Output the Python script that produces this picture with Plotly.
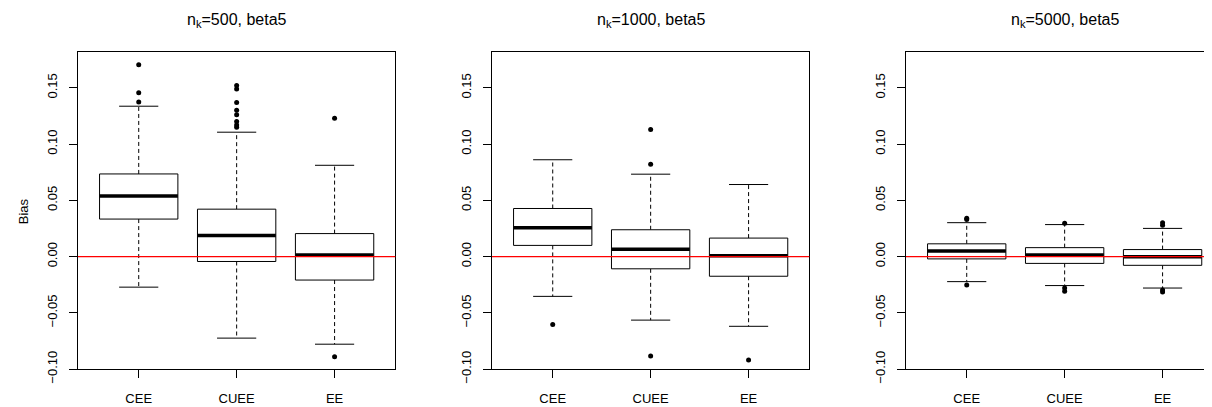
import plotly.graph_objects as go

# ---------------- data ----------------
categories = ["CEE", "CUEE", "EE"]
panel_titles = ["n<sub>k</sub>=500, beta5", "n<sub>k</sub>=1000, beta5", "n<sub>k</sub>=5000, beta5"]
y_tickvals = [-0.10, -0.05, 0.00, 0.05, 0.10, 0.15]
y_ticktext = ["\u22120.10", "\u22120.05", "0.00", "0.05", "0.10", "0.15"]

# panel 1: n_k = 500
q1_500 = [0.0334, -0.0043, -0.0208]
med_500 = [0.0539, 0.0188, 0.0014]
q3_500 = [0.0735, 0.0422, 0.0205]
lo_500 = [-0.0271, -0.0724, -0.0778]
hi_500 = [0.1337, 0.1106, 0.0812]
out_500 = [[0.1705, 0.1457, 0.1374],
           [0.152, 0.149, 0.137, 0.130, 0.126, 0.120, 0.117, 0.115],
           [0.1229, -0.0889]]

# panel 2: n_k = 1000
q1_1000 = [0.0100, -0.0108, -0.0174]
med_1000 = [0.0257, 0.0066, 0.0009]
q3_1000 = [0.0428, 0.0239, 0.0165]
lo_1000 = [-0.0353, -0.0564, -0.0619]
hi_1000 = [0.0861, 0.0733, 0.0641]
out_1000 = [[-0.0604],
            [0.1129, 0.0821, -0.0884],
            [-0.0918]]

# panel 3: n_k = 5000
q1_5000 = [-0.0020, -0.0060, -0.0077]
med_5000 = [0.0051, 0.0014, 0.0000]
q3_5000 = [0.0114, 0.0080, 0.0063]
lo_5000 = [-0.0222, -0.0257, -0.0279]
hi_5000 = [0.0302, 0.0285, 0.0251]
out_5000 = [[0.0342, 0.0331, -0.0251],
            [0.0296, -0.0279, -0.0308],
            [0.0302, 0.0279, -0.0296, -0.0314]]

panels = [
    (q1_500, med_500, q3_500, lo_500, hi_500, out_500),
    (q1_1000, med_1000, q3_1000, lo_1000, hi_1000, out_1000),
    (q1_5000, med_5000, q3_5000, lo_5000, hi_5000, out_5000),
]

# ---------------- layout geometry ----------------
W, H = 1212, 407
FONT = "Liberation Sans, Arial, Helvetica, sans-serif"
PANEL_W = 317.3
unit = PANEL_W / 3.24
x_domains = [(70 / W, 387.3 / W), (484 / W, 801.3 / W), (898.0 / W, 1.0)]
x_ranges = [[0.38, 3.62], [0.38, 3.62], [0.38, 0.38 + (W - 898.0) / unit]]
y_domain = [32 / H, 361 / H]
y_range = [-0.10, 0.1816]
BOX_HALF = 0.4
CAP_HALF = 0.2

fig = go.Figure()

for p, (q1, med, q3, lo, hi, outs) in enumerate(panels):
    xa = "x" if p == 0 else f"x{p+1}"
    ya = "y" if p == 0 else f"y{p+1}"
    wx, wy, cx, cy, bx, by, mx, my, ox, oy = [], [], [], [], [], [], [], [], [], []
    for j in range(len(categories)):
        c = j + 1
        wx += [c, c, None, c, c, None]
        wy += [q3[j], hi[j], None, q1[j], lo[j], None]
        cx += [c - CAP_HALF, c + CAP_HALF, None, c - CAP_HALF, c + CAP_HALF, None]
        cy += [hi[j], hi[j], None, lo[j], lo[j], None]
        bx += [c - BOX_HALF, c + BOX_HALF, c + BOX_HALF, c - BOX_HALF, c - BOX_HALF, None]
        by += [q1[j], q1[j], q3[j], q3[j], q1[j], None]
        mx += [c - BOX_HALF, c + BOX_HALF, None]
        my += [med[j], med[j], None]
        ox += [c] * len(outs[j])
        oy += outs[j]
    common = dict(xaxis=xa, yaxis=ya, showlegend=False, hoverinfo="skip")
    fig.add_trace(go.Scatter(x=wx, y=wy, mode="lines",
                             line=dict(color="black", width=1, dash="4px,3px"), **common))
    fig.add_trace(go.Scatter(x=cx, y=cy, mode="lines",
                             line=dict(color="black", width=1), **common))
    fig.add_trace(go.Scatter(x=bx, y=by, mode="lines", fill="toself", fillcolor="white",
                             line=dict(color="black", width=1), **common))
    fig.add_trace(go.Scatter(x=mx, y=my, mode="lines",
                             line=dict(color="black", width=3.5), **common))
    fig.add_trace(go.Scatter(x=ox, y=oy, mode="markers",
                             marker=dict(color="black", size=5), **common))

    axis_common = dict(showgrid=False, zeroline=False, showline=True, linecolor="black",
                       linewidth=1, ticks="outside", ticklen=8, tickwidth=1, tickcolor="black",
                       tickfont=dict(family=FONT, size=13, color="black"))
    fig.layout[("xaxis" if p == 0 else f"xaxis{p+1}")] = dict(
        domain=list(x_domains[p]), range=x_ranges[p], anchor=ya,
        tickmode="array", tickvals=[1, 2, 3], ticktext=categories,
        mirror=True, ticklabelstandoff=9, **axis_common)
    fig.layout[("yaxis" if p == 0 else f"yaxis{p+1}")] = dict(
        domain=y_domain, range=y_range, anchor=xa,
        tickmode="array", tickvals=y_tickvals, ticktext=y_ticktext, tickangle=-90,
        mirror=(p < 2), ticklabelstandoff=7, **axis_common)

    fig.add_shape(type="line", xref=f"{xa} domain", yref=ya, x0=0, x1=1, y0=0, y1=0,
                  line=dict(color="red", width=1.3), layer="above")

    fig.add_annotation(text=panel_titles[p], xref="paper", yref="paper",
                       x=(x_domains[p][0] + PANEL_W / (2 * W)), y=(H - 13) / H,
                       xanchor="center", yanchor="middle", showarrow=False,
                       font=dict(family=FONT, size=16, color="black"))

fig.add_annotation(text="Bias", xref="paper", yref="paper", x=15 / W, y=(H - 211) / H,
                   xanchor="center", yanchor="middle", textangle=-90, showarrow=False,
                   font=dict(family=FONT, size=13, color="black"))

fig.update_layout(width=W, height=H, autosize=False,
                  margin=dict(l=0, r=0, t=0, b=0),
                  paper_bgcolor="white", plot_bgcolor="white")

fig.write_html("out.html")
